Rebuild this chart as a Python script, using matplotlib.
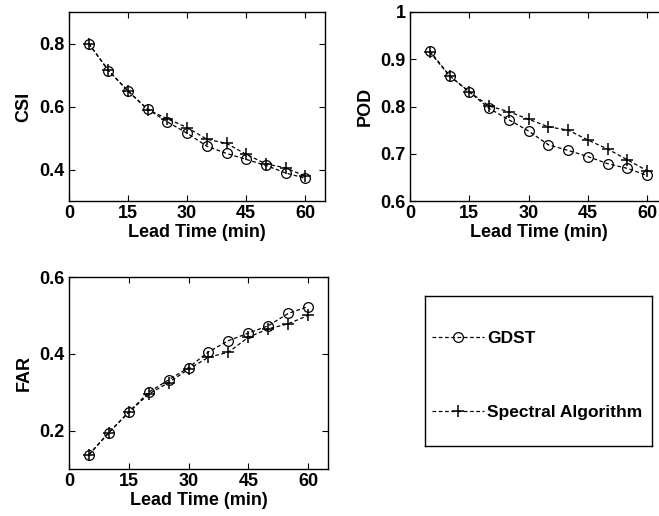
import numpy as np
import matplotlib
matplotlib.use('Agg')
import matplotlib.pyplot as plt
from matplotlib.lines import Line2D

plt.rcParams['font.family'] = ['Liberation Sans', 'DejaVu Sans']
plt.rcParams['font.weight'] = 'bold'

lead_time = [5, 10, 15, 20, 25, 30, 35, 40, 45, 50, 55, 60]

csi_gdst = [0.800, 0.714, 0.649, 0.591, 0.551, 0.515, 0.474, 0.451, 0.432, 0.413, 0.389, 0.372]
csi_spectral = [0.800, 0.715, 0.649, 0.590, 0.561, 0.533, 0.496, 0.483, 0.448, 0.418, 0.405, 0.379]

pod_gdst = [0.918, 0.865, 0.831, 0.796, 0.772, 0.748, 0.719, 0.707, 0.694, 0.679, 0.669, 0.654]
pod_spectral = [0.915, 0.865, 0.831, 0.801, 0.789, 0.773, 0.757, 0.750, 0.729, 0.710, 0.687, 0.664]

far_gdst = [0.137, 0.195, 0.248, 0.300, 0.332, 0.364, 0.405, 0.434, 0.454, 0.473, 0.505, 0.523]
far_spectral = [0.137, 0.195, 0.248, 0.295, 0.325, 0.360, 0.391, 0.404, 0.443, 0.465, 0.478, 0.500]

x_ticks = [0, 15, 30, 45, 60]
series_names = ['GDST', 'Spectral Algorithm']

W, H = 659, 516
fig = plt.figure(figsize=(W / 100, H / 100), dpi=100)


def px_axes(left, top, right, bottom):
    # axes placed by pixel edges
    return fig.add_axes([left / W, 1 - bottom / H, (right - left) / W, (bottom - top) / H])


def style(ax, ylabel, ylim, yticks, ylabels):
    ax.set_xlim(0, 65)
    ax.set_ylim(*ylim)
    ax.set_xticks(x_ticks)
    ax.set_yticks(yticks)
    ax.set_yticklabels(ylabels)
    ax.tick_params(direction='in', top=True, right=True, length=4, width=0.8,
                   labelsize=13, pad=3)
    for lab in ax.get_xticklabels() + ax.get_yticklabels():
        lab.set_fontweight('bold')
    ax.set_xlabel('Lead Time (min)', fontsize=13, fontweight='bold', labelpad=1)
    ax.set_ylabel(ylabel, fontsize=13, fontweight='bold', labelpad=5)
    for s in ax.spines.values():
        s.set_linewidth(1.0)


def draw(ax, gdst, spectral):
    ax.plot(lead_time, gdst, color='black', lw=0.9, dashes=(3, 2),
            marker='o', mfc='none', mec='black', ms=7, mew=0.9)
    ax.plot(lead_time, spectral, color='black', lw=0.9, dashes=(3, 2),
            marker='+', ms=8, mew=1.1)


ax1 = px_axes(69, 12, 325, 201)
draw(ax1, csi_gdst, csi_spectral)
style(ax1, 'CSI', (0.3, 0.9), [0.4, 0.6, 0.8], ['0.4', '0.6', '0.8'])

ax2 = px_axes(410, 12, 667, 201)
draw(ax2, pod_gdst, pod_spectral)
style(ax2, 'POD', (0.6, 1.0), [0.6, 0.7, 0.8, 0.9, 1.0],
      ['0.6', '0.7', '0.8', '0.9', '1'])

ax3 = px_axes(69, 277, 328, 469)
draw(ax3, far_gdst, far_spectral)
style(ax3, 'FAR', (0.1, 0.6), [0.2, 0.4, 0.6], ['0.2', '0.4', '0.6'])

# legend box
axl = px_axes(425, 296, 652, 446)
axl.set_xticks([])
axl.set_yticks([])
for s in axl.spines.values():
    s.set_linewidth(1.0)
handles = [
    Line2D([], [], color='black', lw=0.9, dashes=(3, 2), marker='o',
           mfc='none', mec='black', ms=7, mew=0.9),
    Line2D([], [], color='black', lw=0.9, dashes=(3, 2), marker='+',
           ms=8, mew=1.1),
]
leg = axl.legend(handles, series_names, loc='center left', frameon=False,
                 prop={'size': 12.5, 'weight': 'bold'}, handlelength=3.0,
                 handletextpad=0.2, labelspacing=3.4, borderaxespad=0.0,
                 bbox_to_anchor=(0.0, 0.47))

fig.savefig('out.png', dpi=100)
